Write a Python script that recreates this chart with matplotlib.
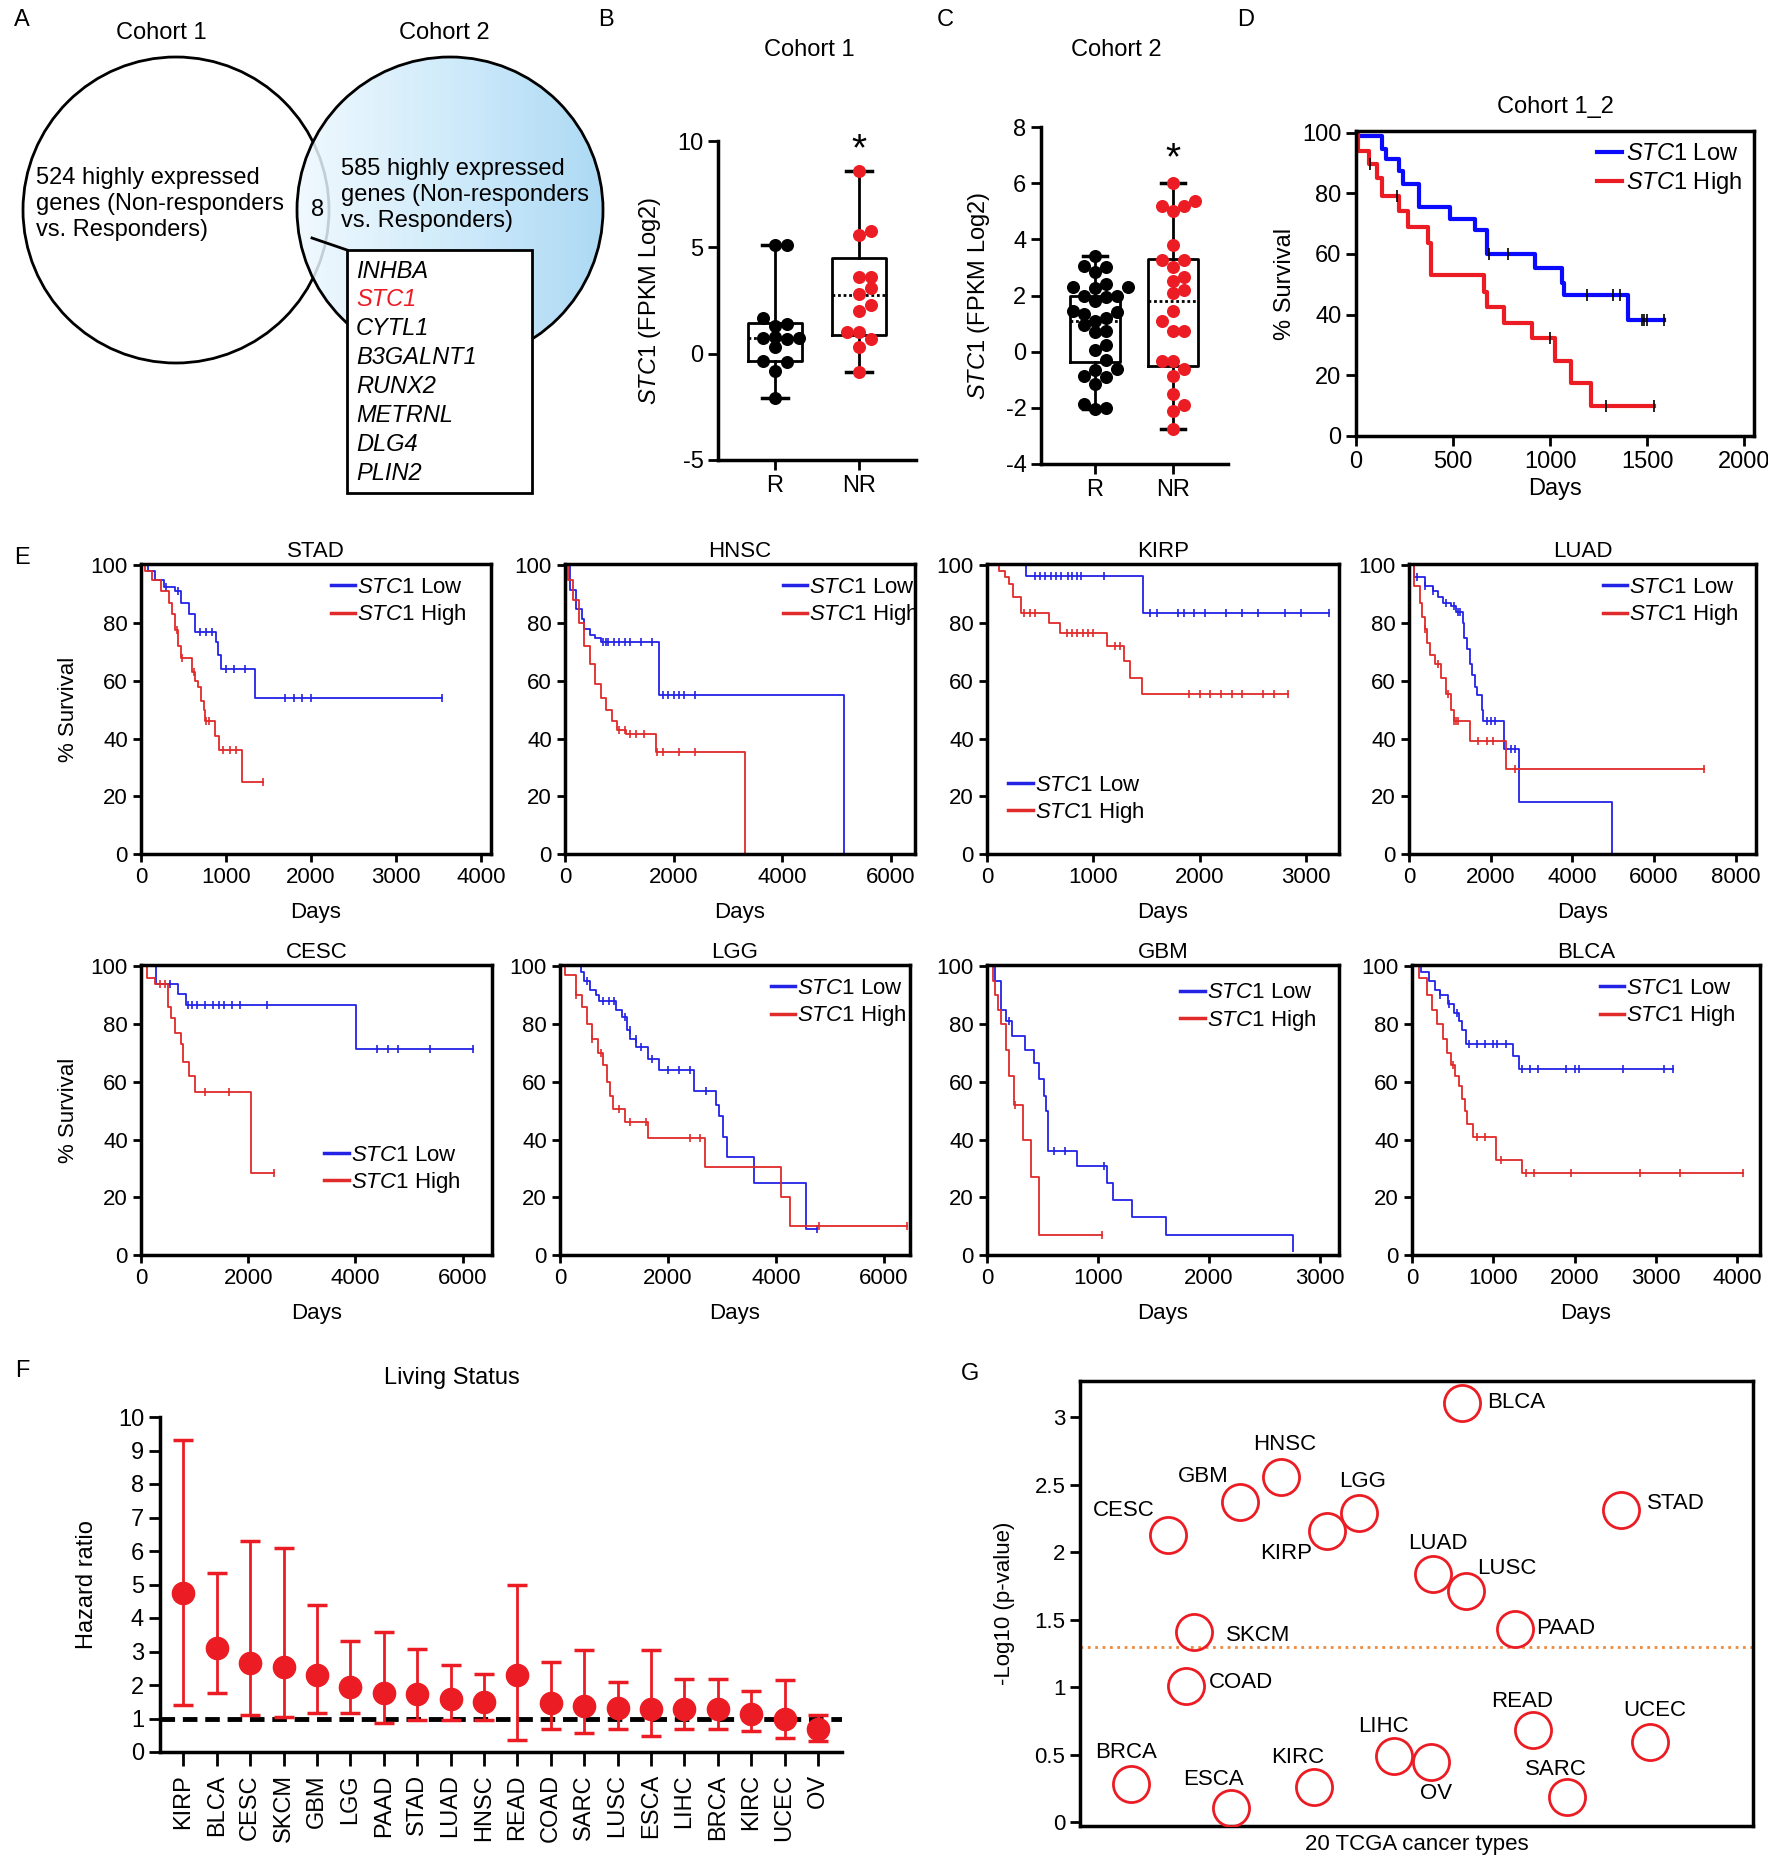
import matplotlib
matplotlib.use("Agg")
import matplotlib.pyplot as plt
import numpy as np
from matplotlib.colors import LinearSegmentedColormap
from matplotlib.patches import Circle, Rectangle

W, H = 1768, 1873
RED = "#ec1c24"
BLUE = "#0a0aff"
E_BLUE = "#2323e6"
E_RED = "#e12a2a"

# ---- panel A -------------------------------------------------------------
COHORT1_N = 524
COHORT2_N = 585
OVERLAP_N = 8
OVERLAP_GENES = ["INHBA", "STC1", "CYTL1", "B3GALNT1", "RUNX2", "METRNL", "DLG4", "PLIN2"]

# ---- panels B / C (box stats + points) -----------------------------------
B_R = [5.1, 5.1, 1.7, 1.4, 1.3, 0.8, 0.75, 0.7, 0.75, 0.3, -0.35, -0.4, -0.8, -2.1]
B_NR = [8.6, 5.75, 5.6, 3.6, 3.6, 3.1, 2.8, 2.3, 2.0, 1.0, 1.0, 0.7, 0.3, -0.85]
B_Q1 = [-0.36, 0.9]
B_MED = [0.73, 2.77]
B_Q3 = [1.43, 4.5]
B_LO = [-2.1, -0.85]
B_HI = [5.1, 8.6]

C_R = [3.4, 3.05, 3.0, 2.85, 2.4, 2.3, 2.3, 2.25, 2.0, 1.98, 1.95, 1.8, 1.45, 1.4, 1.35,
       1.2, 1.1, 0.95, 0.75, 0.7, 0.25, 0.05, -0.3, -0.6, -0.65, -0.85, -0.9, -1.15,
       -1.85, -2.0, -2.05]
C_NR = [6.0, 5.35, 5.2, 5.2, 5.0, 3.8, 3.25, 3.25, 3.0, 2.65, 2.5, 2.2, 2.1, 1.45, 1.1,
        0.75, 0.75, -0.35, -0.35, -0.6, -0.85, -1.5, -1.9, -2.1, -2.75]
C_Q1 = [-0.36, -0.5]
C_MED = [1.1, 1.8]
C_Q3 = [1.98, 3.29]
C_LO = [-2.05, -2.75]
C_HI = [3.4, 6.0]

# ---- panel D (Kaplan-Meier, cohort 1_2) ------------------------------------
D_LOW_T = [0, 135, 152, 222, 243, 327, 484, 615, 677, 921, 1061, 1070, 1402, 1586]
D_LOW_S = [98.9, 94.5, 91.3, 87.4, 83, 75.4, 71.6, 67.8, 59.9, 55.2, 50.3, 46.4, 38.3, 38.3]
D_LOW_CENS = [685, 781, 1192, 1323, 1358, 1472, 1485, 1498, 1586]
D_HIGH_T = [0, 10, 65, 108, 135, 222, 266, 371, 388, 659, 676, 764, 904, 1026, 1105, 1210, 1533]
D_HIGH_S = [100, 94, 89.5, 85, 79.2, 74, 69, 63.5, 53, 47.5, 42.6, 37.2, 32.2, 24.6, 17.5, 9.8, 9.8]
D_HIGH_CENS = [73, 213, 1000, 1288, 1533]

# ---- panel E (TCGA Kaplan-Meier) -----------------------------------------
STAD_LOW_T = [0, 80, 170, 270, 400, 470, 570, 635, 885, 905, 940, 1340, 3545]
STAD_LOW_S = [100, 98, 95, 92.5, 91, 87, 83, 77, 73.5, 69, 64, 54, 54]
STAD_LOW_CENS = [300, 430, 700, 760, 830, 1000, 1100, 1230, 1700, 1800, 1900, 2000, 3545]
STAD_HIGH_T = [0, 50, 130, 234, 334, 368, 401, 435, 468, 602, 635, 669, 702, 736, 749, 870, 923, 1191, 1438]
STAD_HIGH_S = [100, 98, 95, 91, 87, 83, 77.5, 72, 68, 63, 60, 58, 53, 50, 46, 41, 36, 25, 25]
STAD_HIGH_CENS = [420, 480, 620, 760, 800, 960, 1050, 1120, 1438]

HNSC_LOW_T = [0, 100, 204, 305, 356, 458, 560, 662, 1730, 5140]
HNSC_LOW_S = [100, 91.5, 85, 81.5, 78, 76, 75, 73.5, 55, 0]
HNSC_LOW_CENS = [700, 750, 800, 900, 1000, 1100, 1200, 1400, 1600, 1800, 1900, 2000, 2100, 2200, 2400]
HNSC_HIGH_T = [0, 50, 150, 254, 356, 458, 560, 662, 763, 865, 967, 1120, 1680, 3310]
HNSC_HIGH_S = [100, 95, 88, 80, 72, 66, 59, 54, 50, 46, 43, 41.5, 35.5, 0]
HNSC_HIGH_CENS = [1000, 1100, 1200, 1300, 1450, 1700, 1800, 2100, 2400]

KIRP_LOW_T = [0, 365, 1471, 3218]
KIRP_LOW_S = [100, 96.5, 83.5, 83.5]
KIRP_LOW_CENS = [450, 500, 550, 600, 650, 700, 760, 800, 850, 880, 1100, 1530, 1600, 1800,
                 1850, 1950, 2050, 2250, 2400, 2550, 2800, 2950, 3218]
KIRP_HIGH_T = [0, 115, 167, 203, 245, 323, 584, 689, 1132, 1288, 1340, 1455, 2827]
KIRP_HIGH_S = [100, 98, 96, 93.5, 89, 83.5, 80, 76.5, 72, 67, 61, 55.5, 55.5]
KIRP_HIGH_CENS = [350, 400, 450, 750, 800, 850, 900, 950, 1000, 1200, 1250, 1900, 2000, 2100,
                  2200, 2300, 2400, 2600, 2700, 2827]

LUAD_LOW_T = [0, 129, 387, 580, 710, 839, 1032, 1161, 1320, 1350, 1419, 1484, 1548, 1612,
              1677, 1780, 1806, 2322, 2684, 4968]
LUAD_LOW_S = [100, 96, 93, 91, 89, 87, 86, 84, 80, 75, 71, 66, 62, 58, 55, 50, 46, 36.5, 18, 0]
LUAD_LOW_CENS = [200, 400, 600, 900, 1100, 1200, 1250, 1900, 2000, 2100, 2500, 2600]
LUAD_HIGH_T = [0, 129, 258, 322, 387, 452, 516, 645, 774, 903, 1032, 1097, 1484, 2387, 7226]
LUAD_HIGH_S = [100, 93, 87, 82, 78, 73, 69, 66, 61, 55.5, 50, 46, 39, 29.5, 29.5]
LUAD_HIGH_CENS = [400, 700, 950, 1100, 1150, 1200, 1700, 1900, 2050, 2600, 7226]

CESC_LOW_T = [0, 285, 686, 845, 4012, 6198]
CESC_LOW_S = [100, 94, 90.5, 86.5, 71.5, 71.5]
CESC_LOW_CENS = [550, 880, 950, 1050, 1200, 1350, 1450, 1550, 1700, 1850, 2350, 4400, 4600,
                 4800, 5400, 6198]
CESC_HIGH_T = [0, 106, 264, 497, 560, 634, 740, 792, 898, 1003, 2059, 2482]
CESC_HIGH_S = [100, 96, 94, 86, 82, 77, 73, 67, 62, 56.5, 28.5, 28.5]
CESC_HIGH_CENS = [350, 450, 1200, 1650, 2482]

LGG_LOW_T = [0, 395, 450, 555, 662, 715, 1035, 1142, 1249, 1302, 1409, 1622, 1836, 2476,
             2881, 2940, 3010, 3100, 3600, 4550, 4750]
LGG_LOW_S = [100, 98, 95, 92, 90, 88, 85, 82.5, 78, 75, 72, 68, 64, 57, 52, 48, 41, 34, 25, 9, 9]
LGG_LOW_CENS = [500, 800, 900, 1000, 1200, 1300, 1400, 1500, 1700, 2000, 2200, 2400, 2700, 4750]
LGG_HIGH_T = [0, 100, 288, 400, 500, 600, 700, 800, 875, 930, 982, 1195, 1622, 2689, 4098, 4258, 6420]
LGG_HIGH_S = [100, 97, 90, 86, 80, 75, 70, 66, 60, 55, 50.5, 46, 40.5, 30.5, 20, 10, 10]
LGG_HIGH_CENS = [300, 600, 750, 1100, 1300, 1600, 2400, 2600, 4800, 6420]

GBM_LOW_T = [0, 74, 123, 172, 222, 345, 419, 468, 517, 532, 552, 813, 1084, 1133, 1305, 1616, 2759]
GBM_LOW_S = [100, 95, 85, 81, 76, 71, 66.5, 61, 55, 50, 36, 31, 25, 19, 13, 7, 1.5]
GBM_LOW_CENS = [200, 600, 700, 1050]
GBM_HIGH_T = [0, 50, 74, 98, 123, 172, 197, 246, 320, 394, 468, 1034]
GBM_HIGH_S = [100, 95, 90, 85, 80, 71, 62, 52, 40, 27, 7, 7]
GBM_HIGH_CENS = [250, 1034]

BLCA_LOW_T = [0, 113, 213, 280, 347, 447, 513, 580, 613, 667, 1247, 1313, 3213]
BLCA_LOW_S = [100, 98, 95, 92, 90, 87, 84, 81, 78, 73, 69, 64.5, 64.5]
BLCA_LOW_CENS = [350, 450, 550, 700, 800, 900, 1000, 1050, 1150, 1350, 1450, 1550, 1900, 2000,
                 2050, 2600, 3100, 3213]
BLCA_HIGH_T = [0, 80, 180, 247, 313, 380, 430, 480, 530, 580, 613, 647, 680, 747, 1027, 1347, 4067]
BLCA_HIGH_S = [100, 96, 90, 85, 80, 75, 70, 66, 62, 58.5, 54, 50, 45.5, 41, 33, 28.5, 28.5]
BLCA_HIGH_CENS = [500, 800, 900, 1100, 1400, 1500, 1950, 2800, 3300, 4067]

E_NAMES = ["STAD", "HNSC", "KIRP", "LUAD", "CESC", "LGG", "GBM", "BLCA"]
E_XMAX = [4120, 6450, 3310, 8500, 6550, 6480, 3170, 4280]
E_XTICKS = [[0, 1000, 2000, 3000, 4000], [0, 2000, 4000, 6000], [0, 1000, 2000, 3000],
            [0, 2000, 4000, 6000, 8000], [0, 2000, 4000, 6000], [0, 2000, 4000, 6000],
            [0, 1000, 2000, 3000], [0, 1000, 2000, 3000, 4000]]

# ---- panel F (hazard ratios) ---------------------------------------------
F_TYPES = ["KIRP", "BLCA", "CESC", "SKCM", "GBM", "LGG", "PAAD", "STAD", "LUAD", "HNSC",
           "READ", "COAD", "SARC", "LUSC", "ESCA", "LIHC", "BRCA", "KIRC", "UCEC", "OV"]
F_HR = [4.75, 3.1, 2.65, 2.55, 2.3, 1.95, 1.75, 1.72, 1.58, 1.5,
        2.3, 1.45, 1.38, 1.3, 1.28, 1.28, 1.27, 1.12, 1.0, 0.68]
F_LOW = [1.4, 1.77, 1.1, 1.05, 1.15, 1.15, 0.87, 0.97, 0.97, 0.95,
         0.37, 0.7, 0.57, 0.7, 0.47, 0.7, 0.68, 0.63, 0.43, 0.32]
F_HIGH = [9.3, 5.33, 6.3, 6.1, 4.4, 3.3, 3.57, 3.08, 2.6, 2.33,
          5.0, 2.7, 3.03, 2.1, 3.03, 2.17, 2.17, 1.82, 2.15, 1.1]

# ---- panel G (-log10 p) --------------------------------------------------
G_TYPES = ["BLCA", "HNSC", "GBM", "LGG", "STAD", "CESC", "KIRP", "LUAD", "LUSC", "PAAD",
           "SKCM", "COAD", "READ", "UCEC", "LIHC", "OV", "BRCA", "KIRC", "SARC", "ESCA"]
G_X = [0.567, 0.298, 0.238, 0.414, 0.804, 0.131, 0.367, 0.525, 0.573, 0.647,
       0.169, 0.158, 0.673, 0.847, 0.467, 0.522, 0.076, 0.347, 0.724, 0.225]
G_Y = [3.11, 2.56, 2.37, 2.29, 2.31, 2.13, 2.16, 1.84, 1.71, 1.43,
       1.41, 1.01, 0.68, 0.59, 0.49, 0.445, 0.28, 0.26, 0.185, 0.10]
G_CUTOFF = 1.3

plt.rcParams.update({
    "font.family": ["Liberation Sans", "DejaVu Sans"],
    "font.size": 17,
    "mathtext.fontset": "custom",
    "mathtext.rm": "Liberation Sans",
    "mathtext.it": "Liberation Sans:italic",
    "mathtext.bf": "Liberation Sans:bold",
    "axes.unicode_minus": False,
    "axes.linewidth": 2.5,
    "xtick.major.width": 2,
    "ytick.major.width": 2,
    "xtick.major.size": 7,
    "ytick.major.size": 7,
    "xtick.labelsize": 17,
    "ytick.labelsize": 17,
    "legend.frameon": False,
})

fig = plt.figure(figsize=(W / 100, H / 100), dpi=100)


def px_axes(left, top, right, bottom, **kw):
    return fig.add_axes([left / W, 1 - bottom / H, (right - left) / W, (bottom - top) / H], **kw)


def swarm(values, center, dx, dy):
    xs = np.zeros(len(values))
    placed = []
    for i in np.argsort(values):
        y = values[i]
        for k in range(30):
            off = ((k + 1) // 2) * dx * (1 if k % 2 else -1)
            if all(abs(y - py) >= dy or abs(off - px) >= dx * 0.98 for px, py in placed):
                break
        placed.append((off, y))
        xs[i] = center + off
    return xs


def km(ax, t, s, cens, color, lw, label, cens_color=None, cens_size=6):
    line, = ax.step(t, s, where="post", color=color, lw=lw, label=label)
    cy = [s[np.searchsorted(t, c, side="right") - 1] for c in cens]
    ax.plot(cens, cy, ls="none", marker="|", ms=cens_size, mew=1.2, color=cens_color or color)
    return line


LOW_LABEL = r"$\it{STC1}$ Low"
HIGH_LABEL = r"$\it{STC1}$ High"

# ---- overlay: panel letters and the Venn diagram -------------------------
ov = fig.add_axes([0, 0, 1, 1], zorder=-1)
ov.axis("off")
for letter, (lx, ly) in zip("ABCDEFG", [(22, 20), (606, 20), (945, 20), (1246, 20),
                                        (22, 558), (22, 1371), (970, 1374)]):
    ov.text(lx, ly, letter, fontsize=17, ha="center", va="center")

ov.add_patch(Circle((176, 210), 153, fill=False, ec="black", lw=2, zorder=1))
right_clip = Circle((450, 210), 153, fc="none", ec="none")
ov.add_patch(right_clip)
venn_cmap = LinearSegmentedColormap.from_list("venn", ["#eef8fe", "#c8e8fa", "#9ed3f3"])
im = ov.imshow(np.linspace(0, 1, 256)[None, :], extent=(297, 603, 363, 57), cmap=venn_cmap,
               alpha=0.85, zorder=2, aspect="auto")
im.set_clip_path(right_clip)
ov.add_patch(Circle((450, 210), 153, fill=False, ec="black", lw=2, zorder=3))
ov.set_xlim(0, W)
ov.set_ylim(H, 0)
ov.set_aspect("auto")

ov.text(161, 33, "Cohort 1", ha="center", va="center", fontsize=17)
ov.text(444, 33, "Cohort 2", ha="center", va="center", fontsize=17)
ov.text(36, 204, f"{COHORT1_N} highly expressed\ngenes (Non-responders\nvs. Responders)",
        ha="left", va="center", fontsize=17, linespacing=1.25, zorder=5)
ov.text(341, 195, f"{COHORT2_N} highly expressed\ngenes (Non-responders\nvs. Responders)",
        ha="left", va="center", fontsize=17, linespacing=1.25, zorder=5)
ov.text(318, 210, str(OVERLAP_N), ha="center", va="center", fontsize=17, zorder=5)
ov.plot([312, 347], [238, 250], color="black", lw=2, zorder=5)
ov.add_patch(Rectangle((347, 250), 185, 243, fc="white", ec="black", lw=2, zorder=4))
for i, gene in enumerate(OVERLAP_GENES):
    ov.text(356, 271 + i * 28.9, gene, ha="left", va="center", fontsize=17, style="italic",
            color=RED if gene == "STC1" else "black", zorder=5)

# ---- panels B and C -------------------------------------------------------
box_panels = [
    ((718, 141, 916, 460), (0.32, 2.68), (-5, 10), [-5, 0, 5, 10], B_R, B_NR,
     B_Q1, B_MED, B_Q3, B_LO, B_HI, 9.55, (809, 50), "Cohort 1", 0.5),
    ((1041, 127, 1228, 464), (0.31, 2.7), (-4, 8), [-4, -2, 0, 2, 4, 6, 8], C_R, C_NR,
     C_Q1, C_MED, C_Q3, C_LO, C_HI, 6.85, (1116, 50), "Cohort 2", 0.38),
]
for (rect, xl, yl, yt, r_vals, nr_vals, q1, med, q3, lo, hi, star_y, tpos, title, dy) in box_panels:
    ax = px_axes(*rect)
    stats = [dict(q1=q1[i], med=med[i], q3=q3[i], whislo=lo[i], whishi=hi[i], fliers=[])
             for i in range(2)]
    ax.bxp(stats, positions=[1, 2], widths=0.64, capwidths=0.3, showfliers=False,
           boxprops=dict(lw=2, color="black"), whiskerprops=dict(lw=2, color="black"),
           capprops=dict(lw=2.5, color="black"),
           medianprops=dict(lw=2, color="black", ls=(0, (1, 1))))
    ax.scatter(swarm(np.array(r_vals), 1, 0.14, dy), r_vals, s=70, color="black", zorder=3)
    ax.scatter(swarm(np.array(nr_vals), 2, 0.14, dy), nr_vals, s=70, color=RED, zorder=3)
    ax.text(2, star_y, "*", ha="center", va="center", fontsize=28)
    ax.set_xlim(*xl)
    ax.set_ylim(*yl)
    ax.set_yticks(yt)
    ax.set_xticks([1, 2], ["R", "NR"])
    ax.spines[["top", "right"]].set_visible(False)
    ax.spines["left"].set_linewidth(2.5)
    ax.spines["bottom"].set_linewidth(2.5)
    ax.set_ylabel(r"$\it{STC1}$ (FPKM Log2)", fontsize=17, labelpad=10)
    ov.text(tpos[0], tpos[1], title, ha="center", va="center", fontsize=17)

# ---- panel D ---------------------------------------------------------------
ax = px_axes(1356, 131, 1754, 436)
lo_line = km(ax, D_LOW_T, D_LOW_S, D_LOW_CENS, BLUE, 3, LOW_LABEL, "black", 8)
hi_line = km(ax, D_HIGH_T, D_HIGH_S, D_HIGH_CENS, RED, 3, HIGH_LABEL, "black", 8)
ax.set_xlim(0, 2050)
ax.set_ylim(0, 100.5)
ax.set_xticks([0, 500, 1000, 1500, 2000])
ax.set_yticks([0, 20, 40, 60, 80, 100])
ax.set_xlabel("Days", fontsize=17)
ax.set_ylabel("% Survival", fontsize=17, labelpad=4)
ax.legend(handles=[lo_line, hi_line], loc="upper right", bbox_to_anchor=(0.97, 0.96),
          borderpad=0, borderaxespad=0, handlelength=1.1, handletextpad=0.15,
          labelspacing=0.2, fontsize=17)
ov.text(1555, 107, "Cohort 1_2", ha="center", va="center", fontsize=17)

# ---- panel E ---------------------------------------------------------------
E_RECTS = [(141, 564, 491, 854), (565, 564, 915, 854), (987, 564, 1339, 854),
           (1409, 564, 1756, 854), (141, 965, 492, 1255), (560, 965, 910, 1255),
           (987, 965, 1339, 1255), (1412, 965, 1760, 1255)]
E_LEGEND = [("upper right", (0.93, 0.955)), ("upper right", (1.01, 0.955)),
            ("lower left", (0.06, 0.10)), ("upper right", (0.95, 0.955)),
            ("upper right", (0.91, 0.38)), ("upper right", (0.99, 0.955)),
            ("upper right", (0.935, 0.94)), ("upper right", (0.93, 0.955))]
E_CURVES = {
    "STAD": (STAD_LOW_T, STAD_LOW_S, STAD_LOW_CENS, STAD_HIGH_T, STAD_HIGH_S, STAD_HIGH_CENS),
    "HNSC": (HNSC_LOW_T, HNSC_LOW_S, HNSC_LOW_CENS, HNSC_HIGH_T, HNSC_HIGH_S, HNSC_HIGH_CENS),
    "KIRP": (KIRP_LOW_T, KIRP_LOW_S, KIRP_LOW_CENS, KIRP_HIGH_T, KIRP_HIGH_S, KIRP_HIGH_CENS),
    "LUAD": (LUAD_LOW_T, LUAD_LOW_S, LUAD_LOW_CENS, LUAD_HIGH_T, LUAD_HIGH_S, LUAD_HIGH_CENS),
    "CESC": (CESC_LOW_T, CESC_LOW_S, CESC_LOW_CENS, CESC_HIGH_T, CESC_HIGH_S, CESC_HIGH_CENS),
    "LGG": (LGG_LOW_T, LGG_LOW_S, LGG_LOW_CENS, LGG_HIGH_T, LGG_HIGH_S, LGG_HIGH_CENS),
    "GBM": (GBM_LOW_T, GBM_LOW_S, GBM_LOW_CENS, GBM_HIGH_T, GBM_HIGH_S, GBM_HIGH_CENS),
    "BLCA": (BLCA_LOW_T, BLCA_LOW_S, BLCA_LOW_CENS, BLCA_HIGH_T, BLCA_HIGH_S, BLCA_HIGH_CENS),
}
for i, name in enumerate(E_NAMES):
    ax = px_axes(*E_RECTS[i])
    lt, ls_, lc, ht, hs, hc = E_CURVES[name]
    l1 = km(ax, lt, ls_, lc, E_BLUE, 1.3, LOW_LABEL)
    l2 = km(ax, ht, hs, hc, E_RED, 1.3, HIGH_LABEL)
    ax.set_xlim(0, E_XMAX[i])
    ax.set_ylim(0, 100.5)
    ax.set_xticks(E_XTICKS[i])
    ax.set_yticks([0, 20, 40, 60, 80, 100])
    ax.tick_params(labelsize=16, length=6)
    ax.set_title(name, fontsize=16, pad=5)
    ax.set_xlabel("Days", fontsize=16, labelpad=10)
    if i % 4 == 0:
        ax.set_ylabel("% Survival", fontsize=16, labelpad=8)
    loc, anchor = E_LEGEND[i]
    leg = ax.legend(handles=[l1, l2], loc=loc, bbox_to_anchor=anchor, borderpad=0,
                    borderaxespad=0, handlelength=1.1, handletextpad=0.1,
                    labelspacing=0.2, fontsize=16)
    for h in leg.get_lines():
        h.set_linewidth(2.5)

# ---- panel F ---------------------------------------------------------------
ax = px_axes(160, 1417, 842, 1752)
fx = np.arange(len(F_TYPES))
hr = np.array(F_HR)
ax.axhline(1, color="black", lw=3.5, ls=(0, (3, 1.6)), zorder=2)
ax.errorbar(fx, hr, yerr=[hr - np.array(F_LOW), np.array(F_HIGH) - hr], fmt="o",
            color=RED, ms=16, elinewidth=2, capsize=7, capthick=2.5, zorder=3)
ax.set_xlim(-0.7, len(F_TYPES) - 0.28)
ax.set_ylim(0, 10)
ax.set_yticks(range(0, 11))
ax.set_xticks(fx, F_TYPES, rotation=90, fontsize=17)
ax.spines[["top", "right"]].set_visible(False)
ax.tick_params(axis="x", length=10, pad=6)
ax.tick_params(axis="y", length=8)
ax.set_ylabel("Hazard ratio", fontsize=17, labelpad=14)
ov.text(452, 1378, "Living Status", ha="center", va="center", fontsize=17)

# ---- panel G ---------------------------------------------------------------
G_LABEL_OFFSET = {
    "BLCA": (26, 0, "left"), "HNSC": (4, 32, "center"), "GBM": (-37, 26, "center"),
    "LGG": (4, 32, "center"), "STAD": (26, 7, "left"), "CESC": (-44, 24, "center"),
    "KIRP": (-41, -23, "center"), "LUAD": (5, 30, "center"), "LUSC": (11, 23, "left"),
    "PAAD": (21, 1, "left"), "SKCM": (32, -4, "left"), "COAD": (23, 3, "left"),
    "READ": (-11, 29, "center"), "UCEC": (5, 32, "center"), "LIHC": (-11, 29, "center"),
    "OV": (5, -32, "center"), "BRCA": (-5, 32, "center"), "KIRC": (-16, 29, "center"),
    "SARC": (-11, 28, "center"), "ESCA": (-18, 29, "center"),
}
ax = px_axes(1080, 1381, 1753, 1826)
ax.axhline(G_CUTOFF, color="#f08a3c", lw=2, ls=":", zorder=1)
ax.plot(G_X, G_Y, ls="none", marker="o", ms=26, mfc="none", mec=RED, mew=2, zorder=3)
for name, gx, gy in zip(G_TYPES, G_X, G_Y):
    dx, dy, ha = G_LABEL_OFFSET[name]
    ax.annotate(name, (gx, gy), xytext=(dx, dy), textcoords="offset pixels", ha=ha,
                va="center", fontsize=16)
ax.set_xlim(0, 1)
ax.set_ylim(-0.03, 3.27)
ax.set_xticks([])
ax.set_yticks([0, 0.5, 1, 1.5, 2, 2.5, 3], ["0", "0.5", "1", "1.5", "2", "2.5", "3"])
ax.tick_params(axis="y", labelsize=16)
ax.set_xlabel("20 TCGA cancer types", fontsize=16, labelpad=6)
ax.set_ylabel("-Log10 (p-value)", fontsize=16, labelpad=14)

fig.savefig("out.png", dpi=100)
